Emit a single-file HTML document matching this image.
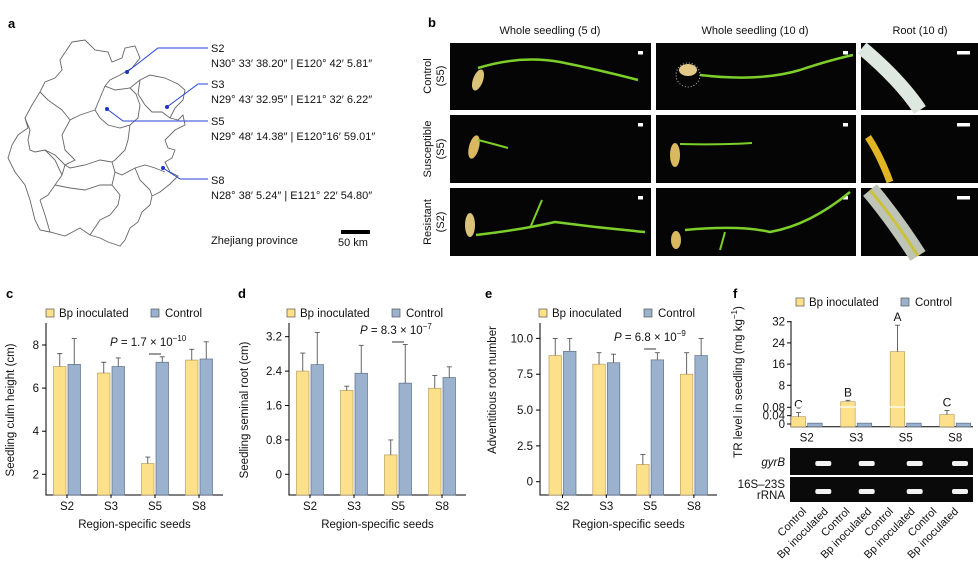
<!DOCTYPE html>
<html><head><meta charset="utf-8">
<style>
html,body{margin:0;padding:0;background:#fff;}
svg{display:block;font-family:"Liberation Sans",Arial,sans-serif;}
</style></head>
<body>
<svg id="fig" width="978" height="571" viewBox="0 0 978 571" xmlns="http://www.w3.org/2000/svg">
<g font-weight="bold" font-size="13" fill="#000">
<text x="8" y="28">a</text>
<text x="428" y="27">b</text>
<text x="6" y="298">c</text>
<text x="238" y="298">d</text>
<text x="485" y="298">e</text>
<text x="733" y="298">f</text>
</g>

<g fill="none" stroke="#666" stroke-width="0.9">
<path d="M72,42 L85,40 L95,50 L108,52 L112,62 L122,58 L125,48 L135,46 L140,58 L132,68 L120,75 L110,80 L105,86 L115,90 L130,88 L140,80 L150,75 L165,78 L178,84 L185,90 L183,100 L175,108 L170,118 L178,120 L183,115 L185,125 L175,130 L165,140 L168,148 L175,150 L172,158 L165,162 L170,172 L178,176 L170,184 L160,192 L152,196 L150,205 L142,212 L138,222 L130,228 L125,240 L120,246 L108,242 L100,238 L90,235 L80,228 L65,236 L50,232 L40,230 L35,220 L30,200 L25,185 L15,172 L8,158 L12,145 L18,135 L28,128 L25,118 L32,105 L40,92 L45,82 L55,78 L62,70 L60,60 Z"/>
<path d="M105,86 L100,98 L95,110 L100,118 L108,125 L120,128 L130,125 L138,118 L140,105 L136,94 L130,88"/>
<path d="M140,80 L138,94 L145,105 L152,112 L162,112 L170,118"/>
<path d="M95,110 L80,115 L70,120 L62,135 L65,150 L75,160 L65,165 L62,175 L55,185 L48,195 L40,200"/>
<path d="M40,92 L48,100 L55,105 L62,110 L70,120"/>
<path d="M25,118 L30,130 L28,140 L30,150 L35,152 L45,150 L55,155 L65,165 L70,168 L85,165 L100,160 L112,162 L115,172 L122,175 L135,168 L145,165 L155,168 L165,172"/>
<path d="M130,125 L128,140 L125,150 L115,160 L112,162"/>
<path d="M45,150 L55,160 L62,175"/>
<path d="M115,172 L112,185 L120,195 L118,205 L110,215 L100,220 L90,235"/>
<path d="M40,200 L45,215 L50,232"/>
<path d="M55,185 L70,188 L85,190 L100,185 L112,185"/>
<path d="M135,168 L140,180 L150,190 L152,196"/>
</g>
<g stroke="#2443d6" stroke-width="1" fill="none">
<polyline points="127,72 158,48 208,48"/>
<polyline points="167,107 198,84 208,84"/>
<polyline points="107,109 123,121 208,121"/>
<polyline points="163,168 180,179 208,179"/>
</g>
<g fill="#1a35c8">
<circle cx="127" cy="72" r="2"/>
<circle cx="167" cy="107" r="2"/>
<circle cx="107" cy="109" r="2"/>
<circle cx="163" cy="168" r="2"/>
</g>
<g font-size="11" fill="#111">
<text x="211" y="52">S2</text>
<text x="211" y="67">N30° 33′ 38.20″ | E120° 42′ 5.81″</text>
<text x="211" y="88">S3</text>
<text x="211" y="103">N29° 43′ 32.95″ | E121° 32′ 6.22″</text>
<text x="211" y="125">S5</text>
<text x="211" y="140">N29° 48′ 14.38″ | E120°16′ 59.01″</text>
<text x="211" y="184">S8</text>
<text x="211" y="199">N28° 38′ 5.24″ | E121° 22′ 54.80″</text>
<text x="211" y="244">Zhejiang province</text>
<text x="338" y="246">50 km</text>
</g>
<rect x="341" y="230" width="29" height="4" fill="#000"/>

<g font-size="11" fill="#111">
<text x="550" y="34" text-anchor="middle">Whole seedling (5 d)</text>
<text x="755" y="34" text-anchor="middle">Whole seedling (10 d)</text>
<text x="920" y="34" text-anchor="middle">Root (10 d)</text>
<text transform="translate(436,76) rotate(-90)" text-anchor="middle"><tspan x="0" dy="-5">Control</tspan><tspan x="0" dy="13">(S5)</tspan></text>
<text transform="translate(436,149) rotate(-90)" text-anchor="middle"><tspan x="0" dy="-5">Susceptible</tspan><tspan x="0" dy="13">(S5)</tspan></text>
<text transform="translate(436,222) rotate(-90)" text-anchor="middle"><tspan x="0" dy="-5">Resistant</tspan><tspan x="0" dy="13">(S2)</tspan></text>
</g>
<g id="photos"></g>
<g id="charts"></g>
</svg>

<script>
const categories = ["S2","S3","S5","S8"];
const culmBp = [7.0, 6.7, 2.5, 7.3];
const culmCtrl = [7.1, 7.0, 7.2, 7.35];
const culmBpErr = [0.6, 0.5, 0.3, 0.5];
const culmCtrlErr = [1.2, 0.4, 0.25, 0.8];
const culmTicks = [2, 4, 6, 8];
const seminalBp = [2.4, 1.95, 0.45, 2.0];
const seminalCtrl = [2.55, 2.35, 2.12, 2.25];
const seminalBpErr = [0.42, 0.1, 0.35, 0.3];
const seminalCtrlErr = [0.75, 0.65, 0.9, 0.25];
const seminalTicks = [0, 0.8, 1.6, 2.4, 3.2];
const seminalTickLabels = ["0","0.8","1.6","2.4","3.2"];
const rootBp = [8.8, 8.2, 1.2, 7.5];
const rootCtrl = [9.1, 8.3, 8.5, 8.8];
const rootBpErr = [1.2, 0.8, 0.7, 1.5];
const rootCtrlErr = [0.9, 0.6, 0.5, 1.2];
const rootTicks = [0, 2.5, 5, 7.5, 10];
const rootTickLabels = ["0","2.5","5.0","7.5","10.0"];
const trBp = [0.035, 2.1, 20.7, 0.045];
const trCtrl = [0.004, 0.004, 0.004, 0.004];
const trBpErr = [0.02, 0.5, 10, 0.02];
const trLetters = ["C","B","A","C"];
const trTicks = [0, 0.04, 0.08, 8, 16, 24, 32];
const trTickLabels = ["0","0.04","0.08","8","16","24","32"];
const laneLabels = ["Control","Bp inoculated","Control","Bp inoculated","Control","Bp inoculated","Control","Bp inoculated"];

const NS = "http://www.w3.org/2000/svg";
const root = document.getElementById('charts');
const YEL = "#fde08a", YEL_S = "#b8a066", BLU = "#9bb2cf", BLU_S = "#5d6f88";
function mk(tag, attrs, parent, txt){
  const e = document.createElementNS(NS, tag);
  for (const k in attrs) e.setAttribute(k, attrs[k]);
  if (txt !== undefined) e.textContent = txt;
  (parent || root).appendChild(e);
  return e;
}

function legend(g, x, y){
  const a = mk('rect',{x:x,y:y-8,width:8,height:8,fill:YEL,stroke:"#555","stroke-width":0.7},g);
  
  
  const t1 = mk('text',{x:x+13,y:y,"font-size":11.5,fill:"#111"},g,"Bp inoculated");
  
  
  const b = mk('rect',{x:x+105,y:y-8,width:8,height:8,fill:BLU,stroke:"#555","stroke-width":0.7},g);
  
  
  const t2 = mk('text',{x:x+119,y:y,"font-size":11.5,fill:"#111"},g,"Control");
  
  
}

function barPanel(o){
  const g = mk('g',{});
  
  
  const y = v => o.y0 - (v - o.v0) * o.ppu;
  const ax = mk('path',{d:`M${o.x0},${o.top} V${o.bottom} H${o.x1}`,stroke:"#000","stroke-width":1,fill:"none"},g);
  
  
  o.ticks.forEach((t,i)=>{
    mk('line',{x1:o.x0-4,x2:o.x0,y1:y(t),y2:y(t),stroke:"#000","stroke-width":1},g);
    const tl = mk('text',{x:o.x0-7,y:y(t)+4,"font-size":11.5,"text-anchor":"end",fill:"#111"},g,o.tickLabels?o.tickLabels[i]:String(t));
    
    
  });
  categories.forEach((c,i)=>{
    const cx = o.cx0 + i*o.step;
    const w = o.bw;
    const hb = y(o.bp[i]), hc = y(o.ctrl[i]);
    const r1 = mk('rect',{x:cx-w-1,y:hb,width:w,height:o.bottom-hb,fill:YEL,stroke:YEL_S,"stroke-width":0.7},g);
    
    
    const r2 = mk('rect',{x:cx+1,y:hc,width:w,height:o.bottom-hc,fill:BLU,stroke:BLU_S,"stroke-width":0.7},g);
    
    
    [[cx-1-w/2,o.bp[i],o.bpErr[i]],[cx+1+w/2,o.ctrl[i],o.ctrlErr[i]]].forEach(([ex,v,e])=>{
      const el = mk('path',{d:`M${ex},${y(v)} V${y(v+e)} M${ex-2.5},${y(v+e)} H${ex+2.5}`,stroke:"#555","stroke-width":0.9,fill:"none"},g);
      
      
    });
    const xl = mk('text',{x:cx,y:o.bottom+15,"font-size":11.5,"text-anchor":"middle",fill:"#111"},g,c);
    
    
    mk('line',{x1:cx,x2:cx,y1:o.bottom,y2:o.bottom+3,stroke:"#000"},g);
  });
  const xt = mk('text',{x:(o.x0+o.x1)/2,y:o.bottom+33,"font-size":11.5,"text-anchor":"middle",fill:"#111"},g,"Region-specific seeds");
  
  
  const yt = mk('text',{transform:`translate(${o.ytx},${o.yty}) rotate(-90)`,"font-size":11.5,"text-anchor":"middle",fill:"#111"},g,o.ytitle);
  
  
  legend(g, o.legX, 317);
  const pt = mk('text',{x:o.px,y:o.py,"font-size":11.5,fill:"#111"},g);
  
  
  mk('tspan',{"font-style":"italic"},pt,"P");
  mk('tspan',{},pt," = "+o.pv+" × 10");
  mk('tspan',{dy:-5,"font-size":8},pt,o.pe);
  const s5 = o.cx0 + 2*o.step;
  mk('line',{x1:s5-6,x2:s5+6,y1:o.py+8,y2:o.py+8,stroke:"#000","stroke-width":0.8},g);
}

barPanel({name:"culm-height-chart",x0:46,x1:223,top:323,bottom:495,y0:474.3,v0:2,ppu:21.55,
  cx0:67,step:44,bw:12.5,bp:culmBp,ctrl:culmCtrl,bpErr:culmBpErr,ctrlErr:culmCtrlErr,
  ticks:culmTicks,ytitle:"Seedling culm height (cm)",ytx:14,yty:410,legX:46,px:110,py:346,pv:"1.7",pe:"−10"});
barPanel({name:"seminal-root-chart",x0:289,x1:466,top:323,bottom:495,y0:474.3,v0:0,ppu:43,
  cx0:310,step:44,bw:12.5,bp:seminalBp,ctrl:seminalCtrl,bpErr:seminalBpErr,ctrlErr:seminalCtrlErr,
  ticks:seminalTicks,tickLabels:seminalTickLabels,ytitle:"Seedling seminal root (cm)",ytx:248,yty:410,legX:287,px:360,py:334,pv:"8.3",pe:"−7"});
barPanel({name:"adventitious-root-chart",x0:540,x1:717,top:323,bottom:495,y0:481.7,v0:0,ppu:14.33,
  cx0:562.5,step:43.8,bw:12.5,bp:rootBp,ctrl:rootCtrl,bpErr:rootBpErr,ctrlErr:rootCtrlErr,
  ticks:rootTicks,tickLabels:rootTickLabels,ytitle:"Adventitious root number",ytx:496,yty:390,legX:539,px:614,py:341,pv:"6.8",pe:"−9"});

(function(){
  const g = mk('g',{});
  
  
  const x0 = 791, x1 = 973, bottom = 426.7;
  function y(v){
    if (v <= 0.08) return 424 - v*208.75;
    if (v <= 8) return 407.3 - (v-0.08)/7.92*22;
    return 385.3 - (v-8)*2.65;
  }
  const ax = mk('path',{d:`M${x0},321 V${bottom} H${x1}`,stroke:"#000","stroke-width":1,fill:"none"},g);
  
  
  trTicks.forEach((t,i)=>{
    mk('line',{x1:x0-4,x2:x0,y1:y(t),y2:y(t),stroke:"#000"},g);
    const tl = mk('text',{x:x0-6,y:y(t)+4,"font-size":11.5,"text-anchor":"end",fill:"#111"},g,trTickLabels[i]);
    
    
  });
  const cx0 = 806.7, step = 49.5, w = 14.5;
  categories.forEach((c,i)=>{
    const cx = cx0 + i*step;
    const hb = y(trBp[i]), hc = y(trCtrl[i]);
    const r1 = mk('rect',{x:cx-w-1,y:hb,width:w,height:bottom-hb,fill:YEL,stroke:YEL_S,"stroke-width":0.7},g);
    
    
    const r2 = mk('rect',{x:cx+1,y:Math.min(hc,423.5),width:w,height:bottom-Math.min(hc,423.5),fill:BLU,stroke:BLU_S,"stroke-width":0.7},g);
    
    
    const ex = cx-1-w/2, top = y(trBp[i]+trBpErr[i]);
    const el = mk('path',{d:`M${ex},${hb} V${top} M${ex-2.5},${top} H${ex+2.5}`,stroke:"#555","stroke-width":0.9,fill:"none"},g);
    
    
    const lt = mk('text',{x:ex,y:top-4,"font-size":12,"text-anchor":"middle",fill:"#111"},g,trLetters[i]);
    
    
    const xl = mk('text',{x:cx,y:bottom+15,"font-size":11.5,"text-anchor":"middle",fill:"#111"},g,c);
    
    
  });
  mk('line',{x1:x0+1,x2:x1,y1:407,y2:407,stroke:"#fff","stroke-width":1.3},g);
  const yt = mk('text',{transform:"translate(742,382) rotate(-90)","font-size":11.5,"text-anchor":"middle",fill:"#111"},g);
  
  
  mk('tspan',{},yt,"TR level in seedling (mg kg");
  mk('tspan',{dy:-5,"font-size":8},yt,"−1");
  mk('tspan',{dy:5},yt,")");
  legend(g, 796, 306);
  const gel1 = mk('rect',{x:790,y:448,width:183,height:27,fill:"#0a0a0a"},g);
  
  
  const gel2 = mk('rect',{x:790,y:477,width:183,height:25,fill:"#0a0a0a"},g);
  
  
  const bandX = [823.3, 866.7, 914.7, 960];
  bandX.forEach(bx=>{
    const b1 = mk('rect',{x:bx-8,y:461,width:16,height:5,rx:2,fill:"#f2f2f2"},g);
    
    
    const b2 = mk('rect',{x:bx-8,y:489,width:16,height:5,rx:2,fill:"#f2f2f2"},g);
    
    
  });
  const g1 = mk('text',{x:785,y:466,"font-size":11.5,"text-anchor":"end","font-style":"italic",fill:"#111"},g,"gyrB");
  
  
  const g2 = mk('text',{x:785,y:488,"font-size":11.5,"text-anchor":"end",fill:"#111"},g,"16S–23S");
  
  
  const g3 = mk('text',{x:785,y:499,"font-size":11.5,"text-anchor":"end",fill:"#111"},g,"rRNA");
  
  
  laneLabels.forEach((l,i)=>{
    const lx = 803 + i*21.7;
    const t = mk('text',{transform:`translate(${lx+4},512) rotate(-45)`,"font-size":11,"text-anchor":"end",fill:"#111"},g,l);
    
    
  });
})();

(function(){
  const P = document.getElementById('photos');
  const cols = [[450,201],[656,200],[861,117]];
  const rows = [[43,67],[115,68],[188,68]];
  const rowNames = ["control","susceptible","resistant"];
  const colNames = ["5d","10d","root"];
  function add(tag, a){ const e=document.createElementNS(NS,tag); for(const k in a) e.setAttribute(k,a[k]); P.appendChild(e); return e; }
  rows.forEach(([ry,rh],ri)=>cols.forEach(([cx,cw],ci)=>{
    const r = add('rect',{x:cx,y:ry,width:cw,height:rh,fill:"#050505"});
    
    
    const sw = ci===2?13:5;
    add('rect',{x:cx+cw-sw-8,y:ry+8,width:sw,height:3.5,fill:"#fff"});
  }));
  const G = "#7ccf2a";
  add('path',{d:"M478,68 Q520,55 560,62 Q600,70 638,80",stroke:G,"stroke-width":2.5,fill:"none"});
  add('ellipse',{cx:478,cy:80,rx:5,ry:11,fill:"#d9c27a",transform:"rotate(20 478 80)"});
  add('path',{d:"M700,75 Q760,82 800,70 Q830,60 853,55",stroke:G,"stroke-width":2.5,fill:"none"});
  add('ellipse',{cx:688,cy:70,rx:9,ry:6,fill:"#e2c987"});
  add('circle',{cx:688,cy:75,r:12,fill:"none",stroke:"#bbb","stroke-width":1,"stroke-dasharray":"1 2"});
  add('path',{d:"M862,48 Q900,80 920,110",stroke:"#dfe8e0","stroke-width":14,fill:"none"});
  add('ellipse',{cx:474,cy:147,rx:5,ry:12,fill:"#d9b860",transform:"rotate(15 474 147)"});
  add('path',{d:"M478,140 Q490,143 508,148",stroke:G,"stroke-width":2,fill:"none"});
  add('ellipse',{cx:675,cy:155,rx:5,ry:12,fill:"#d9b860"});
  add('path',{d:"M680,144 Q720,145 752,143",stroke:G,"stroke-width":2,fill:"none"});
  add('path',{d:"M868,137 Q880,155 890,182",stroke:"#e1b423","stroke-width":7,fill:"none"});
  add('ellipse',{cx:470,cy:225,rx:5,ry:12,fill:"#d9c27a"});
  add('path',{d:"M476,235 Q520,230 555,222 Q600,228 645,232",stroke:G,"stroke-width":2.5,fill:"none"});
  add('path',{d:"M530,228 L542,200",stroke:G,"stroke-width":2,fill:"none"});
  add('ellipse',{cx:676,cy:240,rx:5,ry:9,fill:"#d9b860"});
  add('path',{d:"M685,230 Q740,225 770,232 Q810,225 850,192",stroke:G,"stroke-width":2.5,fill:"none"});
  add('path',{d:"M725,232 L720,250",stroke:G,"stroke-width":2,fill:"none"});
  add('path',{d:"M870,190 Q895,220 918,256",stroke:"#bfc4b8","stroke-width":18,fill:"none"});
  add('path',{d:"M870,190 Q895,220 918,256",stroke:"#c9c23a","stroke-width":3,fill:"none"});
})();
</script>
</body></html>
